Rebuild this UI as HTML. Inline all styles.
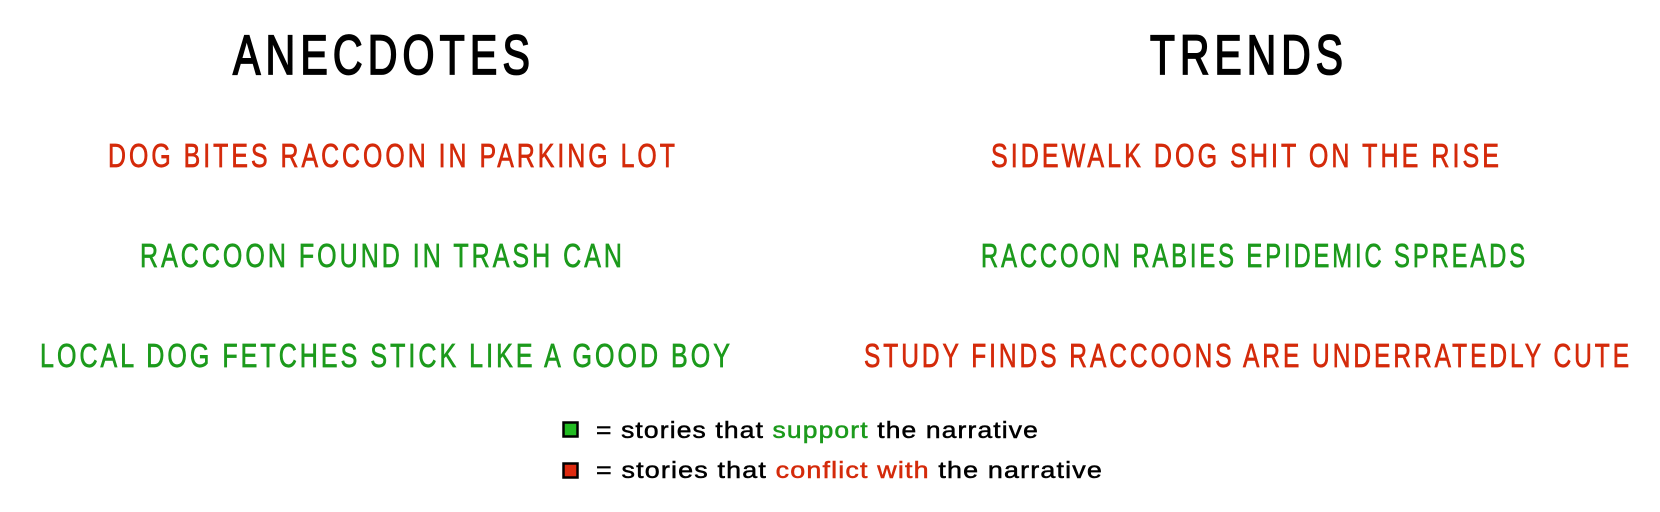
<!DOCTYPE html>
<html><head><meta charset="utf-8"><style>
html,body{margin:0;padding:0;background:#fff;}
svg{display:block;}
text{font-family:"Liberation Sans","DejaVu Sans",sans-serif;}
</style></head><body>
<svg width="1660" height="512" viewBox="0 0 1660 512" xmlns="http://www.w3.org/2000/svg">
<rect width="1660" height="512" fill="#fff"/>
<g font-size="56" fill="#000" stroke="#000" stroke-width="1.8" letter-spacing="7">
<text x="233" y="74" textLength="302" lengthAdjust="spacingAndGlyphs">ANECDOTES</text>
<text x="1150" y="74" textLength="198" lengthAdjust="spacingAndGlyphs">TRENDS</text>
</g>
<g font-size="33" stroke-width="0.7" letter-spacing="4">
<text x="108" y="167" fill="#d42a0a" stroke="#d42a0a" textLength="570" lengthAdjust="spacingAndGlyphs">DOG BITES RACCOON IN PARKING LOT</text>
<text x="140" y="267" fill="#1c9a1c" stroke="#1c9a1c" textLength="485" lengthAdjust="spacingAndGlyphs">RACCOON FOUND IN TRASH CAN</text>
<text x="40" y="367" fill="#1c9a1c" stroke="#1c9a1c" textLength="693" lengthAdjust="spacingAndGlyphs">LOCAL DOG FETCHES STICK LIKE A GOOD BOY</text>
<text x="991" y="167" fill="#d42a0a" stroke="#d42a0a" textLength="511" lengthAdjust="spacingAndGlyphs">SIDEWALK DOG SHIT ON THE RISE</text>
<text x="981" y="267" fill="#1c9a1c" stroke="#1c9a1c" textLength="547" lengthAdjust="spacingAndGlyphs">RACCOON RABIES EPIDEMIC SPREADS</text>
<text x="864" y="367" fill="#d42a0a" stroke="#d42a0a" textLength="768" lengthAdjust="spacingAndGlyphs">STUDY FINDS RACCOONS ARE UNDERRATEDLY CUTE</text>
</g>
<rect x="563.5" y="422.5" width="14" height="14" fill="#22bb22" stroke="#000" stroke-width="2.5"/>
<rect x="563.5" y="463.5" width="14" height="14" fill="#dd2a10" stroke="#000" stroke-width="2.5"/>
<g font-size="23" fill="#000" stroke="#000" stroke-width="0.5" letter-spacing="1">
<text x="596" y="438" textLength="443" lengthAdjust="spacingAndGlyphs">= stories that <tspan fill="#1c9a1c" stroke="#1c9a1c">support</tspan> the narrative</text>
<text x="596" y="478" textLength="507" lengthAdjust="spacingAndGlyphs">= stories that <tspan fill="#d42a0a" stroke="#d42a0a">conflict with</tspan> the narrative</text>
</g>
</svg>
</body></html>
